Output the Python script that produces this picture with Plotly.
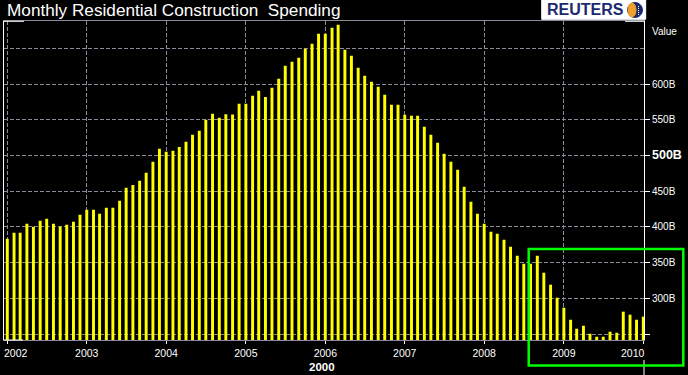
import pandas as pd
import plotly.graph_objects as go

# ---- data (billions of dollars, monthly, Jan 2002 - Jan 2010) ----
months = pd.date_range("2002-01-01", periods=97, freq="MS")
spending = [
    383.6, 392.0, 392.0, 404.6, 400.4, 408.8, 411.6, 404.6, 400.4, 403.2, 407.4, 417.2,
    424.2, 424.2, 418.6, 427.0, 427.0, 436.8, 455.1, 458.9, 464.9, 476.1, 491.5, 509.7,
    505.5, 506.9, 512.1, 519.5, 529.4, 535.0, 550.4, 558.8, 553.2, 558.0, 557.6, 572.8,
    572.8, 584.0, 591.0, 582.2, 595.2, 607.9, 626.1, 631.7, 637.3, 649.9, 656.9, 670.9,
    670.9, 679.3, 683.5, 648.5, 640.1, 623.3, 612.1, 603.6, 596.6, 585.4, 571.4, 571.4,
    557.4, 556.0, 556.0, 540.6, 529.4, 518.2, 502.7, 491.5, 480.3, 456.5, 435.4, 418.6,
    404.6, 393.4, 390.6, 382.2, 372.4, 359.7, 348.5, 348.5, 359.7, 335.9, 319.1, 300.9,
    286.9, 270.0, 257.4, 261.6, 250.4, 246.2, 246.2, 253.2, 251.8, 281.3, 277.1, 270.0,
    274.3,
]
year_ticks = ["2002-01-01", "2003-01-01", "2004-01-01", "2005-01-01", "2006-01-01",
              "2007-01-01", "2008-01-01", "2009-01-01", "2010-01-01"]
year_labels = ["2002", "2003", "2004", "2005", "2006", "2007", "2008", "2009", "2010"]
y_tickvals = [250, 300, 350, 400, 450, 500, 550, 600]
y_ticktext = ["", "300B", "350B", "400B", "450B",
              "<span style='font-size:12.5px'><b>500B</b></span>", "550B", "600B"]

FONT = "Liberation Sans, Arial, sans-serif"
GRID = "#8a8a98"

# edge year labels are nudged inward (drawn as annotations), inner ones are tick labels
axis_ticktext = [""] + year_labels[1:-1] + [""]

fig = go.Figure()
fig.add_trace(go.Bar(
    x=months, y=spending,
    width=13.5 * 24 * 3600 * 1000,
    marker=dict(color="#ffff00", line=dict(width=0)),
    hoverinfo="x+y",
))

fig.update_layout(
    width=688, height=375,
    margin=dict(l=4, r=44, t=21, b=35, autoexpand=False),
    paper_bgcolor="#000000", plot_bgcolor="#000000",
    showlegend=False,
    font=dict(family=FONT, color="#ffffff", size=10),
    xaxis=dict(
        type="date", automargin=False,
        range=["2001-12-16 20:00", "2010-01-04 05:00"],
        tickmode="array", tickvals=year_ticks, ticktext=axis_ticktext,
        ticks="outside", ticklen=3, tickcolor="#ffffff",
        tickfont=dict(size=10.5, color="#ffffff", family=FONT),
        showgrid=True, gridcolor=GRID, griddash="4px,2px", gridwidth=1,
        showline=True, linecolor=GRID, linewidth=1, mirror=True,
        zeroline=False, fixedrange=True,
    ),
    yaxis=dict(
        side="right", automargin=False,
        range=[241.6, 688.7],
        tickmode="array", tickvals=y_tickvals, ticktext=y_ticktext,
        ticks="outside", ticklen=5, tickcolor="#ffffff",
        tickfont=dict(size=10, color="#ffffff", family=FONT),
        showgrid=True, gridcolor=GRID, griddash="4px,2px", gridwidth=1,
        minor=dict(tickvals=[650], showgrid=True, gridcolor=GRID,
                   griddash="4px,2px", ticks=""),
        showline=True, linecolor="#ffffff", linewidth=1, mirror=True,
        zeroline=False, fixedrange=True,
    ),
)

def px_x(px):
    return (px - 4) / 640.0

def px_y(py):
    return (340 - py) / 319.0

shapes = []
# white border accents
shapes.append(dict(type="line", xref="paper", yref="paper",
                   x0=px_x(4), x1=px_x(24), y0=px_y(21.3), y1=px_y(21.3),
                   line=dict(color="#ffffff", width=1)))
shapes.append(dict(type="line", xref="paper", yref="paper",
                   x0=px_x(625), x1=px_x(645), y0=px_y(21.3), y1=px_y(21.3),
                   line=dict(color="#ffffff", width=1)))
shapes.append(dict(type="line", xref="paper", yref="paper",
                   x0=px_x(4), x1=px_x(23), y0=px_y(340), y1=px_y(340),
                   line=dict(color="#ffffff", width=1)))
# white divider below axis
shapes.append(dict(type="line", xref="paper", yref="paper",
                   x0=px_x(644), x1=px_x(644), y0=px_y(360), y1=px_y(376),
                   line=dict(color="#ffffff", width=1)))
# green highlight box
shapes.append(dict(type="rect", xref="paper", yref="paper",
                   x0=px_x(528.7), x1=px_x(683.3), y0=px_y(365.5), y1=px_y(249),
                   line=dict(color="#00ff00", width=2.5), fillcolor="rgba(0,0,0,0)"))
# Reuters logo box
shapes.append(dict(type="rect", xref="paper", yref="paper",
                   x0=px_x(541.7), x1=px_x(645.7), y0=px_y(19.3), y1=px_y(-1),
                   line=dict(color="#ffffff", width=1), fillcolor="#ffffff", layer="above"))
# globe
shapes.append(dict(type="circle", xref="paper", yref="paper",
                   x0=px_x(627.5), x1=px_x(642.5), y0=px_y(17.5), y1=px_y(2.5),
                   line=dict(color="#1b2a6e", width=1), fillcolor="#1b2a6e", layer="above"))
shapes.append(dict(type="circle", xref="paper", yref="paper",
                   x0=px_x(628), x1=px_x(636), y0=px_y(17), y1=px_y(3),
                   line=dict(color="#f0a02c", width=1), fillcolor="#f0a02c", layer="above"))
shapes.append(dict(type="line", xref="paper", yref="paper",
                   x0=px_x(638.5), x1=px_x(638.5), y0=px_y(15), y1=px_y(5),
                   line=dict(color="#ffffff", width=1, dash="1px,1px"), layer="above"))
fig.update_layout(shapes=shapes)

annotations = [
    dict(text="Monthly Residential Construction\u00a0 Spending",
         xref="paper", yref="paper", x=px_x(5), y=px_y(10),
         xanchor="left", yanchor="middle", showarrow=False,
         font=dict(family=FONT, size=17.2, color="#ffffff")),
    dict(text="<b>REUTERS</b>",
         xref="paper", yref="paper", x=px_x(545), y=px_y(10),
         xanchor="left", yanchor="middle", showarrow=False,
         font=dict(family=FONT, size=16, color="#1b2a6e")),
    dict(text="Value",
         xref="paper", yref="paper", x=px_x(650), y=px_y(31.5),
         xanchor="left", yanchor="middle", showarrow=False,
         font=dict(family=FONT, size=10, color="#ffffff")),
    dict(text="<b>2000</b>",
         xref="paper", yref="paper", x=px_x(322), y=px_y(367),
         xanchor="center", yanchor="middle", showarrow=False,
         font=dict(family=FONT, size=11.5, color="#ffffff")),
    # first / last year labels, kept inside the figure like the original
    dict(text=year_labels[0], xref="x", yref="paper", x=year_ticks[0], y=px_y(352.5),
         xanchor="left", yanchor="middle", xshift=-5, showarrow=False,
         font=dict(family=FONT, size=10.5, color="#ffffff")),
    dict(text=year_labels[-1], xref="x", yref="paper", x=year_ticks[-1], y=px_y(352.5),
         xanchor="right", yanchor="middle", xshift=3.5, showarrow=False,
         font=dict(family=FONT, size=10.5, color="#ffffff")),
]
fig.update_layout(annotations=annotations)

fig.write_html(
    "out.html",
    config={"displayModeBar": False},
    post_script="document.body.style.margin='0';document.body.style.overflow='hidden';",
)
